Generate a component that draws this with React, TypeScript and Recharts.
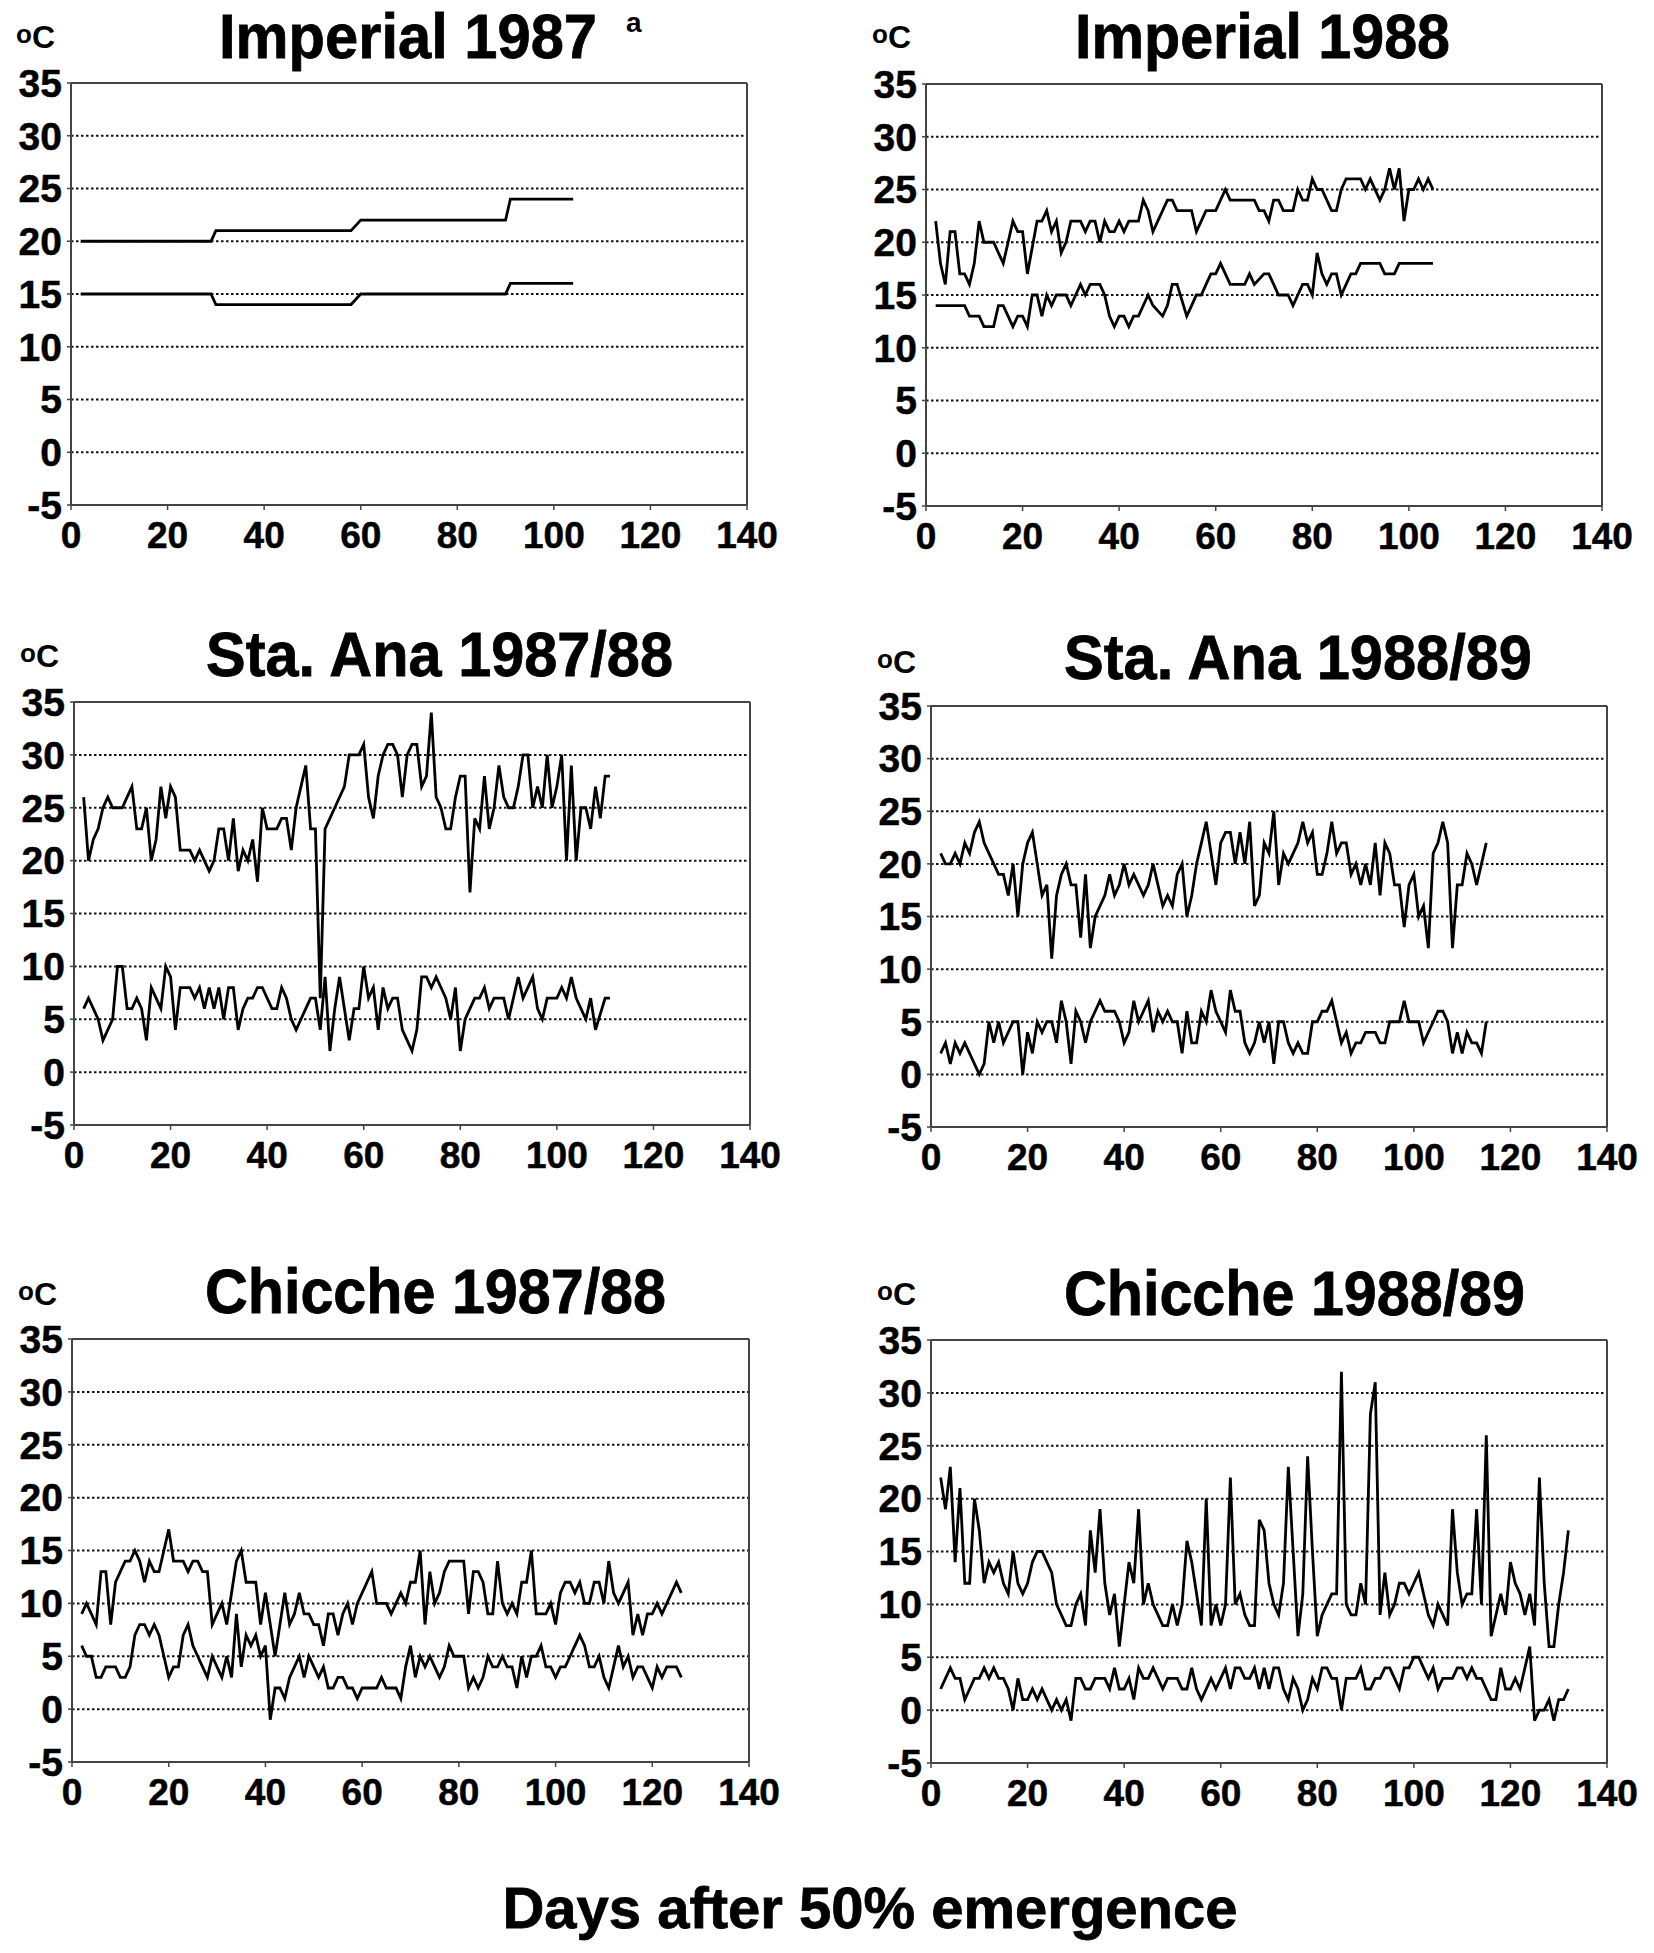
import React from 'react';
import { LineChart, Line, XAxis, YAxis, CartesianGrid, ReferenceLine } from 'recharts';

type Pt = [number, number];

const xTicks = [0, 20, 40, 60, 80, 100, 120, 140];
const yTicks = [-5, 0, 5, 10, 15, 20, 25, 30, 35];

const titles = ['Imperial 1987', 'Imperial 1988', 'Sta. Ana 1987/88', 'Sta. Ana 1988/89', 'Chicche 1987/88', 'Chicche 1988/89'];
const unitLabel = 'C';
const footnote = 'a';
const xAxisTitle = 'Days after 50% emergence';

// [day, temperature °C]
const imp87Max: Pt[] = [[2,20],[29,20],[30,21],[58,21],[60,22],[90,22],[91,24],[104,24]];
const imp87Min: Pt[] = [[2,15],[29,15],[30,14],[58,14],[60,15],[90,15],[91,16],[104,16]];

const imp88Max: Pt[] = [[2,22],[3,18],[4,16],[5,21],[6,21],[7,17],[8,17],[9,16],[10,18],[11,22],[12,20],[14,20],[16,18],[18,22],[19,21],[20,21],[21,17],[23,22],[24,22],[25,23],[26,21],[27,22],[28,19],[29,20],[30,22],[32,22],[33,21],[34,22],[35,22],[36,20],[37,22],[38,21],[39,21],[40,22],[41,21],[42,22],[44,22],[45,24],[46,23],[47,21],[48,22],[49,23],[50,24],[51,24],[52,23],[55,23],[56,21],[57,22],[58,23],[60,23],[62,25],[63,24],[68,24],[69,23],[70,23],[71,22],[72,24],[73,24],[74,23],[76,23],[77,25],[78,24],[79,24],[80,26],[81,25],[82,25],[84,23],[85,23],[86,25],[87,26],[90,26],[91,25],[92,26],[94,24],[95,25],[96,27],[97,25],[98,27],[99,22],[100,25],[101,25],[102,26],[103,25],[104,26],[105,25]];
const imp88Min: Pt[] = [[2,14],[8,14],[9,13],[11,13],[12,12],[14,12],[15,14],[16,14],[18,12],[19,13],[20,13],[21,12],[22,15],[23,15],[24,13],[25,15],[26,14],[27,15],[29,15],[30,14],[31,15],[32,16],[33,15],[34,16],[36,16],[37,15],[38,13],[39,12],[40,13],[41,13],[42,12],[43,13],[44,13],[46,15],[47,14],[49,13],[50,14],[51,16],[52,16],[54,13],[55,14],[56,15],[57,15],[58,16],[59,17],[60,17],[61,18],[63,16],[66,16],[67,17],[68,16],[70,17],[71,17],[72,16],[73,15],[75,15],[76,14],[78,16],[79,16],[80,15],[81,19],[82,17],[83,16],[84,17],[85,17],[86,15],[88,17],[89,17],[90,18],[94,18],[95,17],[97,17],[98,18],[105,18]];

const sta87Max: Pt[] = [[2,26],[3,20],[4,22],[5,23],[6,25],[7,26],[8,25],[10,25],[11,26],[12,27],[13,23],[14,23],[15,25],[16,20],[17,22],[18,27],[19,24],[20,27],[21,26],[22,21],[24,21],[25,20],[26,21],[27,20],[28,19],[29,20],[30,23],[31,23],[32,20],[33,24],[34,19],[35,21],[36,20],[37,22],[38,18],[39,25],[40,23],[42,23],[43,24],[44,24],[45,21],[46,25],[47,27],[48,29],[49,23],[50,23],[51,7],[52,23],[54,25],[56,27],[57,30],[59,30],[60,31],[61,26],[62,24],[63,28],[64,30],[65,31],[66,31],[67,30],[68,26],[69,30],[70,31],[71,31],[72,27],[73,28],[74,34],[75,26],[76,25],[77,23],[78,23],[79,26],[80,28],[81,28],[82,17],[83,24],[84,23],[85,28],[86,23],[87,25],[88,29],[89,26],[90,25],[91,25],[92,27],[93,30],[94,30],[95,25],[96,27],[97,25],[98,30],[99,25],[100,27],[101,30],[102,20],[103,29],[104,20],[105,25],[106,25],[107,23],[108,27],[109,24],[110,28],[111,28]];
const sta87Min: Pt[] = [[2,6],[3,7],[4,6],[5,5],[6,3],[7,4],[8,5],[9,10],[10,10],[11,6],[12,6],[13,7],[14,6],[15,3],[16,8],[17,7],[18,6],[19,10],[20,9],[21,4],[22,8],[24,8],[25,7],[26,8],[27,6],[28,8],[29,6],[30,8],[31,5],[32,8],[33,8],[34,4],[35,6],[36,7],[37,7],[38,8],[39,8],[40,7],[41,6],[42,6],[43,8],[44,7],[45,5],[46,4],[47,5],[48,6],[49,7],[50,7],[51,4],[52,9],[53,2],[54,6],[55,9],[56,6],[57,3],[58,6],[59,6],[60,10],[61,7],[62,8],[63,4],[64,8],[65,6],[66,7],[67,7],[68,4],[69,3],[70,2],[71,4],[72,9],[73,9],[74,8],[75,9],[76,8],[77,7],[78,5],[79,8],[80,2],[81,5],[82,6],[83,7],[84,7],[85,8],[86,6],[87,7],[89,7],[90,5],[92,9],[93,7],[95,9],[96,6],[97,5],[98,7],[100,7],[101,8],[102,7],[103,9],[104,7],[106,5],[107,7],[108,4],[110,7],[111,7]];

const sta88Max: Pt[] = [[2,21],[3,20],[4,20],[5,21],[6,20],[7,22],[8,21],[9,23],[10,24],[11,22],[12,21],[13,20],[14,19],[15,19],[16,17],[17,20],[18,15],[19,20],[20,22],[21,23],[22,20],[23,17],[24,18],[25,11],[26,17],[27,19],[28,20],[29,18],[30,18],[31,13],[32,19],[33,12],[34,15],[35,16],[36,17],[37,19],[38,17],[39,18],[40,20],[41,18],[42,19],[43,18],[44,17],[45,18],[46,20],[47,18],[48,16],[49,17],[50,16],[51,19],[52,20],[53,15],[54,17],[55,20],[56,22],[57,24],[58,21],[59,18],[60,22],[61,23],[62,23],[63,20],[64,23],[65,20],[66,24],[67,16],[68,17],[69,22],[70,21],[71,25],[72,18],[73,21],[74,20],[75,21],[76,22],[77,24],[78,22],[79,23],[80,19],[81,19],[82,21],[83,24],[84,21],[85,22],[86,22],[87,19],[88,20],[89,18],[90,20],[91,18],[92,22],[93,17],[94,22],[95,21],[96,18],[97,18],[98,14],[99,18],[100,19],[101,15],[102,16],[103,12],[104,21],[105,22],[106,24],[107,22],[108,12],[109,18],[110,18],[111,21],[112,20],[113,18],[114,20],[115,22]];
const sta88Min: Pt[] = [[2,2],[3,3],[4,1],[5,3],[6,2],[7,3],[8,2],[9,1],[10,0],[11,1],[12,5],[13,3],[14,5],[15,3],[16,4],[17,5],[18,5],[19,0],[20,4],[21,2],[22,5],[23,4],[24,5],[25,5],[26,3],[27,7],[28,5],[29,1],[30,6],[31,5],[32,3],[33,5],[34,6],[35,7],[36,6],[38,6],[39,5],[40,3],[41,4],[42,7],[43,5],[44,6],[45,7],[46,4],[47,6],[48,5],[49,6],[50,5],[51,5],[52,2],[53,6],[54,3],[55,3],[56,6],[57,5],[58,8],[59,6],[60,5],[61,4],[62,8],[63,6],[64,6],[65,3],[66,2],[67,3],[68,5],[69,3],[70,5],[71,1],[72,5],[73,5],[74,3],[75,2],[76,3],[77,2],[78,2],[79,5],[80,5],[81,6],[82,6],[83,7],[84,5],[85,3],[86,4],[87,2],[88,3],[89,3],[90,4],[92,4],[93,3],[94,3],[95,5],[97,5],[98,7],[99,5],[101,5],[102,3],[103,4],[104,5],[105,6],[106,6],[107,5],[108,2],[109,4],[110,2],[111,4],[112,3],[113,3],[114,2],[115,5]];

const chi87Max: Pt[] = [[2,9],[3,10],[4,9],[5,8],[6,13],[7,13],[8,8],[9,12],[10,13],[11,14],[12,14],[13,15],[14,14],[15,12],[16,14],[17,13],[18,13],[19,15],[20,17],[21,14],[23,14],[24,13],[25,14],[26,14],[27,13],[28,13],[29,8],[30,9],[31,10],[32,8],[33,11],[34,14],[35,15],[36,12],[38,12],[39,8],[40,11],[41,8],[42,5],[43,8],[44,11],[45,8],[46,9],[47,11],[48,9],[49,9],[50,8],[51,8],[52,6],[53,9],[54,9],[55,7],[56,9],[57,10],[58,8],[59,10],[60,11],[61,12],[62,13],[63,10],[65,10],[66,9],[67,10],[68,11],[69,10],[70,12],[71,12],[72,15],[73,8],[74,13],[75,10],[76,11],[77,13],[78,14],[81,14],[82,9],[83,13],[84,13],[85,12],[86,9],[87,9],[88,14],[89,10],[90,9],[91,10],[92,9],[93,12],[94,12],[95,15],[96,9],[98,9],[99,10],[100,8],[101,11],[102,12],[103,12],[104,11],[105,12],[106,10],[107,10],[108,12],[109,12],[110,10],[111,14],[112,11],[113,10],[114,11],[115,12],[116,7],[117,9],[118,7],[119,9],[120,9],[121,10],[122,9],[123,10],[124,11],[125,12],[126,11]];
const chi87Min: Pt[] = [[2,6],[3,5],[4,5],[5,3],[6,3],[7,4],[9,4],[10,3],[11,3],[12,4],[13,7],[14,8],[15,8],[16,7],[17,8],[18,7],[19,5],[20,3],[21,4],[22,4],[23,7],[24,8],[25,6],[26,5],[27,4],[28,3],[29,5],[30,4],[31,3],[32,5],[33,3],[34,9],[35,4],[36,7],[37,6],[38,7],[39,5],[40,6],[41,-1],[42,2],[43,2],[44,1],[45,3],[46,4],[47,5],[48,3],[49,5],[50,4],[51,3],[52,4],[53,2],[54,2],[55,3],[56,3],[57,2],[58,2],[59,1],[60,2],[63,2],[64,3],[65,2],[67,2],[68,1],[69,4],[70,6],[71,3],[72,5],[73,4],[74,5],[75,4],[76,3],[77,4],[78,6],[79,5],[81,5],[82,2],[83,3],[84,2],[85,3],[86,5],[87,4],[88,4],[89,5],[90,4],[91,4],[92,2],[93,5],[94,3],[95,5],[96,5],[97,6],[98,4],[99,4],[100,3],[101,4],[102,4],[103,5],[104,6],[105,7],[106,6],[107,4],[108,4],[109,5],[110,3],[111,2],[112,4],[113,6],[114,4],[115,5],[116,3],[117,4],[118,4],[119,3],[120,2],[121,4],[122,3],[123,4],[125,4],[126,3]];

const chi88Max: Pt[] = [[2,22],[3,19],[4,23],[5,14],[6,21],[7,12],[8,12],[9,20],[10,17],[11,12],[12,14],[13,13],[14,14],[15,12],[16,11],[17,15],[18,12],[19,11],[20,12],[21,14],[22,15],[23,15],[24,14],[25,13],[26,10],[27,9],[28,8],[29,8],[30,10],[31,11],[32,8],[33,17],[34,13],[35,19],[36,12],[37,9],[38,11],[39,6],[40,10],[41,14],[42,12],[43,19],[44,10],[45,12],[46,10],[47,9],[48,8],[49,8],[50,10],[51,8],[52,10],[53,16],[54,14],[55,11],[56,8],[57,20],[58,8],[59,10],[60,8],[61,10],[62,22],[63,10],[64,11],[65,9],[66,8],[67,8],[68,18],[69,17],[70,12],[71,10],[72,9],[73,12],[74,23],[75,15],[76,7],[77,11],[78,24],[79,15],[80,7],[81,9],[82,10],[83,11],[84,11],[85,32],[86,10],[87,9],[88,9],[89,12],[90,10],[91,28],[92,31],[93,9],[94,13],[95,9],[96,10],[97,12],[98,12],[99,11],[100,12],[101,13],[102,11],[103,9],[104,8],[105,10],[106,9],[107,8],[108,19],[109,13],[110,10],[111,11],[112,11],[113,19],[114,10],[115,26],[116,7],[117,9],[118,11],[119,9],[120,14],[121,12],[122,11],[123,9],[124,11],[125,8],[126,22],[127,12],[128,6],[129,6],[130,10],[131,13],[132,17]];
const chi88Min: Pt[] = [[2,2],[3,3],[4,4],[5,3],[6,3],[7,1],[8,2],[9,3],[10,3],[11,4],[12,3],[13,4],[14,3],[15,3],[16,2],[17,0],[18,3],[19,1],[20,1],[21,2],[22,1],[23,2],[24,1],[25,0],[26,1],[27,0],[28,1],[29,-1],[30,3],[31,3],[32,2],[33,2],[34,3],[36,3],[37,2],[38,4],[39,2],[40,2],[41,3],[42,1],[43,4],[44,3],[45,3],[46,4],[47,3],[48,2],[49,3],[51,3],[52,2],[53,2],[54,4],[55,2],[56,1],[57,2],[58,3],[59,2],[60,3],[61,4],[62,2],[63,4],[64,4],[65,3],[66,3],[67,4],[68,2],[69,4],[70,2],[71,4],[72,4],[73,2],[74,1],[75,3],[76,2],[77,0],[78,1],[79,3],[80,2],[81,4],[82,4],[83,3],[84,3],[85,0],[86,3],[88,3],[89,4],[90,2],[91,2],[92,3],[93,3],[94,4],[95,4],[96,3],[97,2],[98,4],[99,4],[100,5],[101,5],[102,4],[103,3],[104,4],[105,2],[106,3],[108,3],[109,4],[110,4],[111,3],[112,4],[113,3],[114,3],[115,2],[116,1],[117,1],[118,4],[119,2],[120,2],[121,3],[122,2],[123,4],[124,6],[125,-1],[126,0],[127,0],[128,1],[129,-1],[130,1],[131,1],[132,2]];

const seriesMax = [imp87Max, imp88Max, sta87Max, sta88Max, chi87Max, chi88Max];
const seriesMin = [imp87Min, imp88Min, sta87Min, sta88Min, chi87Min, chi88Min];

// layout (pixels)
const layout = [
  { left: 71, top: 83, w: 676, h: 422, titleX: 219, titleY: 58, titleW: 378, unitX: 16, unitY: 48 },
  { left: 926, top: 84, w: 676, h: 422, titleX: 1075, titleY: 58, titleW: 375, unitX: 872, unitY: 48 },
  { left: 74, top: 702, w: 676, h: 423, titleX: 206, titleY: 676, titleW: 467, unitX: 20, unitY: 667 },
  { left: 931, top: 706, w: 676, h: 421, titleX: 1064, titleY: 679, titleW: 468, unitX: 877, unitY: 673 },
  { left: 72, top: 1339, w: 677, h: 423, titleX: 205, titleY: 1313, titleW: 461, unitX: 18, unitY: 1305 },
  { left: 931, top: 1340, w: 676, h: 423, titleX: 1064, titleY: 1315, titleW: 461, unitX: 877, unitY: 1305 },
];

const FONT = "'Liberation Sans', Arial, Helvetica, sans-serif";
const ML = 90;
const MT = 20;
const MR = 60;
const MB = 70;

const toPts = (arr: Pt[]) => arr.map(([day, t]) => ({ day, t }));

function Panel({ idx }: { idx: number }) {
  const L = layout[idx];
  const xTickStyle = { fill: '#000', stroke: '#000', strokeWidth: 0.5, fontSize: 37, fontWeight: 700, fontFamily: FONT };
  const yTickStyle = { fill: '#000', stroke: '#000', strokeWidth: 0.5, fontSize: 39, fontWeight: 700, fontFamily: FONT };
  const axisStroke = { stroke: '#444', strokeWidth: 2 };
  return (
    <div style={{ position: 'absolute', left: L.left - ML, top: L.top - MT }}>
      <LineChart width={L.w + ML + MR} height={L.h + MT + MB} margin={{ top: MT, right: MR, left: 0, bottom: 0 }}>
        <CartesianGrid vertical={false} stroke="#111" strokeDasharray="2.5 2.5" strokeWidth={2} />
        <XAxis
          dataKey="day"
          type="number"
          domain={[0, 140]}
          ticks={xTicks}
          interval={0}
          height={MB}
          tickSize={5}
          tickMargin={12}
          axisLine={axisStroke}
          tickLine={{ stroke: '#444', strokeWidth: 1.5 }}
          tick={xTickStyle}
          allowDataOverflow
        />
        <YAxis
          type="number"
          domain={[-5, 35]}
          ticks={yTicks}
          interval={0}
          width={ML}
          tickSize={4}
          tickMargin={5}
          axisLine={axisStroke}
          tickLine={{ stroke: '#444', strokeWidth: 1.5 }}
          tick={yTickStyle}
          allowDataOverflow
        />
        <ReferenceLine y={35} stroke="#444" strokeWidth={2} />
        <ReferenceLine x={140} stroke="#444" strokeWidth={2} />
        <Line data={toPts(seriesMax[idx])} dataKey="t" type="linear" stroke="#000" strokeWidth={2.8} dot={false} activeDot={false} isAnimationActive={false} />
        <Line data={toPts(seriesMin[idx])} dataKey="t" type="linear" stroke="#000" strokeWidth={2.8} dot={false} activeDot={false} isAnimationActive={false} />
      </LineChart>
    </div>
  );
}

export default function App() {
  return (
    <div style={{ position: 'absolute', left: 0, top: 0, width: 1654, height: 1953, background: '#fff', overflow: 'hidden' }}>
      {layout.map((_, i) => (
        <Panel key={i} idx={i} />
      ))}
      <svg width={1654} height={1953} style={{ position: 'absolute', left: 0, top: 0, pointerEvents: 'none' }}>
        {layout.map((L, i) => (
          <g key={i} fontFamily={FONT} fontWeight={700} fill="#000">
            <text x={L.titleX} y={L.titleY} fontSize={63} stroke="#000" strokeWidth={0.8} textLength={L.titleW} lengthAdjust="spacingAndGlyphs">
              {titles[i]}
            </text>
            <text x={L.unitX} y={L.unitY} fontSize={32}>
              <tspan fontSize={26} dy={-5}>o</tspan>
              <tspan dy={5}>{unitLabel}</tspan>
            </text>
          </g>
        ))}
        <text x={626} y={32} fontSize={28} fontWeight={700} fontFamily={FONT}>{footnote}</text>
        <text x={870} y={1928} fontSize={58} fontWeight={700} fontFamily={FONT} stroke="#000" strokeWidth={0.8} textAnchor="middle">
          {xAxisTitle}
        </text>
      </svg>
    </div>
  );
}
